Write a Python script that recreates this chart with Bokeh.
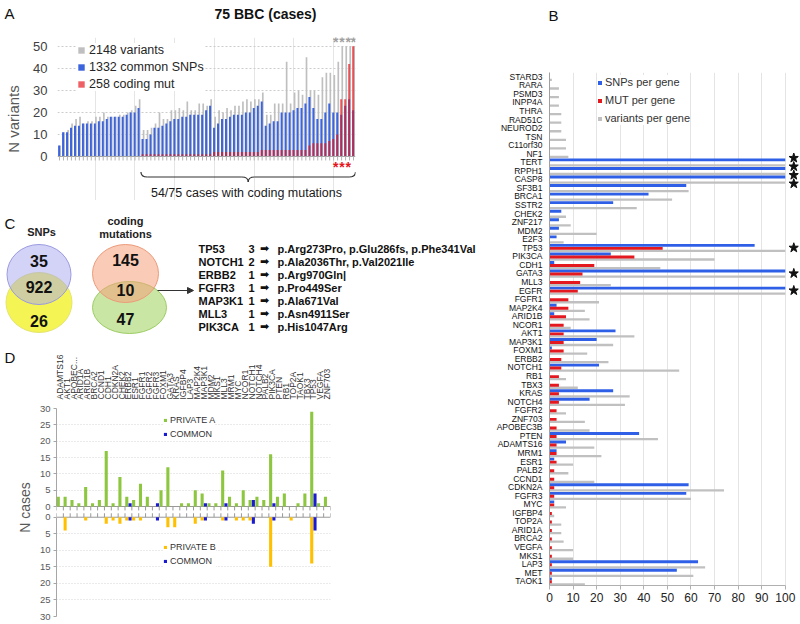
from math import pi
import numpy as np
from bokeh.plotting import figure
from bokeh.layouts import row, column
from bokeh.models import (Range1d, FactorRange, FixedTicker, Legend, LegendItem,
                          ColumnDataSource, Arrow, NormalHead)
from bokeh.transform import dodge
from bokeh.core.properties import value
from bokeh.embed import file_html
from bokeh.resources import INLINE

FONT = "Liberation Sans"
ARROW_FONT = "DejaVu Sans"

# ================= DATA =================
# Panel A: 75 cases
a_title = "75 BBC (cases)"
a_legend = ["2148 variants", "1332 common SNPs", "258 coding mut"]
a_brace_text = "54/75 cases with  coding mutations"
a_snps = [5, 11, 11, 13, 14, 14, 15, 15, 15, 15, 16, 16, 17, 18, 18, 18, 18, 19, 20, 20, 22,
          8, 8, 10, 13, 13, 14, 15, 16, 17, 17, 18, 18, 19, 19, 19, 19, 21, 23,
          13, 15, 17, 17, 18, 19, 19, 19, 20, 20, 22, 23,
          25, 14, 15, 16, 16, 20, 20, 20, 21, 22, 22, 24,
          27, 22, 17, 17, 20, 24, 20, 20, 19, 23, 26, 21]
a_variants = [5, 11, 12, 15, 17, 18, 15, 16, 16, 18, 18, 20, 18, 18, 18, 19, 19, 20, 21, 23, 26,
              12, 12, 13, 15, 20, 17, 17, 21, 21, 22, 21, 25, 21, 21, 24, 24, 23, 26,
              18, 21, 20, 22, 21, 23, 23, 25, 26, 25, 26, 26,
              29, 19, 19, 24, 24, 24, 43, 24, 29, 30, 28, 45,
              30, 30, 28, 36, 38, 38, 37, 43, 50, 50, 50, 50]
a_coding = [0, 0, 0, 0, 0, 0, 0, 0, 0, 0, 0, 0, 0, 0, 0, 0, 0, 0, 0, 0, 0,
            1, 1, 1, 1, 1, 1, 1, 1, 1, 1, 1, 1, 1, 1, 1, 1, 1, 1,
            2, 2, 2, 2, 2, 2, 2, 2, 2, 2, 2, 2,
            3, 3, 3, 3, 3, 3, 3, 3, 3, 3, 3, 3,
            5, 6, 6, 6, 6, 7, 8, 10, 26, 26, 42, 50]

# Panel B: per gene
b_legend = ["SNPs per gene", "MUT per gene", "variants per gene"]
b_genes = ["STARD3", "RARA", "PSMD3", "INPP4A", "THRA", "RAD51C", "NEUROD2", "TSN", "C11orf30", "NF1",
           "TERT", "RPPH1", "CASP8", "SF3B1", "BRCA1", "SSTR2", "CHEK2", "ZNF217", "MDM2", "E2F3",
           "TP53", "PIK3CA", "CDH1", "GATA3", "MLL3", "EGFR", "FGFR1", "MAP2K4", "ARID1B", "NCOR1",
           "AKT1", "MAP3K1", "FOXM1", "ERBB2", "NOTCH1", "RB1", "TBX3", "KRAS", "NOTCH4", "FGFR2",
           "ZNF703", "APOBEC3B", "PTEN", "ADAMTS16", "MRM1", "ESR1", "PALB2", "CCND1", "CDKN2A", "FGFR3",
           "MYC", "IGFBP4", "TOP2A", "ARID1A", "BRCA2", "VEGFA", "MKS1", "LAP3", "MET", "TAOK1"]
b_snps = [0, 0, 0, 0, 0, 0, 0, 0, 0, 0,
          100, 100, 100, 58, 42, 27, 5, 4, 4, 3,
          87, 26, 2, 100, 0, 100, 0, 3, 2, 0,
          28, 20, 1, 0, 21, 0, 0, 27, 17, 0,
          0, 0, 38, 7, 3, 2, 0, 0, 59, 58,
          2, 0, 0, 0, 0, 0, 0, 63, 54, 1]
b_mut = [0, 0, 0, 0, 0, 0, 0, 0, 0, 0,
         0, 0, 0, 0, 0, 0, 0, 0, 0, 0,
         48, 36, 19, 14, 13, 12, 8, 8, 7, 6,
         6, 6, 6, 5, 5, 4, 4, 4, 4, 3,
         3, 3, 3, 3, 3, 3, 2, 2, 2, 2,
         2, 1, 1, 1, 1, 1, 1, 1, 1, 1]
b_variants = [1, 4, 4, 4, 5, 5, 5, 7, 7, 8,
              100, 100, 100, 59, 52, 37, 7, 9, 20, 6,
              100, 70, 47, 100, 26, 100, 21, 15, 17, 9,
              36, 27, 16, 25, 55, 7, 12, 34, 32, 7,
              15, 17, 46, 19, 22, 10, 8, 19, 74, 60,
              7, 2, 5, 5, 6, 10, 10, 66, 61, 15]
b_star_genes = ["TERT", "RPPH1", "CASP8", "CASP8", "TP53", "GATA3", "EGFR"]
b_star_shift = [0.5, 0.5, 0.5, -0.5, 0.0, 0.0, 0.0]

# Panel C
c_snp_venn = ["35", "922", "26"]
c_mut_venn = ["145", "10", "47"]
c_genes = ["TP53", "NOTCH1", "ERBB2", "FGFR3", "MAP3K1", "MLL3", "PIK3CA"]
c_counts = ["3", "2", "1", "1", "1", "1", "1"]
c_changes = ["p.Arg273Pro, p.Glu286fs, p.Phe341Val", "p.Ala2036Thr, p.Val2021Ile",
             "p.Arg970Gln|", "p.Pro449Ser", "p.Ala671Val", "p.Asn4911Ser", "p.His1047Arg"]

# Panel D
d_legend_top = ["PRIVATE A", "COMMON"]
d_legend_bot = ["PRIVATE B", "COMMON"]
d_genes = ["ADAMTS16", "AKT1", "APOBEC...", "ARID1A", "ARID1B", "BRCA2", "CCND1", "CDH1", "CDKN2A", "CHEK2",
           "ERBB2", "ESR1", "FGFR1", "FGFR2", "FGFR3", "FOXM1", "GATA3", "KRAS", "IGFBP4", "LAP3",
           "MAP2K4", "MAP3K1", "MDM2", "MKS1", "MLL3", "MRM1", "MYC", "NCOR1", "NOTCH1", "NOTCH4",
           "PALB2", "PIK3CA", "PTEN", "RB1", "TOP2A", "TAOK1", "TBX3", "TP53", "VEGFA", "ZNF703"]
d_private_a = [3, 3, 2, 1, 6, 1, 2, 17, 1, 9,
               3, 2, 7, 3, 0, 5, 12, 0, 1, 1,
               5, 4, 1, 1, 11, 3, 1, 5, 2, 3,
               2, 16, 3, 4, 0, 1, 4, 29, 1, 3]
d_private_b = [0, 4, 0, 0, 1, 0, 0, 2, 1, 2,
               1, 1, 1, 0, 0, 0, 3, 3, 0, 0,
               2, 1, 0, 0, 1, 0, 1, 1, 1, 0,
               0, 15, 0, 0, 1, 0, 0, 14, 0, 0]
d_common = [0, 0, 0, 0, 0, 0, 0, 0, 0, 0,
            1, 0, 0, 0, 1, 0, 0, 0, 0, 0,
            0, 1, 0, 0, 1, 0, 0, 0, 2, 0,
            0, 1, 0, 0, 0, 0, 0, 4, 0, 0]


# ================= HELPERS =================
def fig(**kw):
    p = figure(output_backend="svg", toolbar_location=None, frame_align=False, **kw)
    p.outline_line_color = None
    return p


def pixfig(w, h, x0, y0):
    p = fig(width=w, height=h, x_range=Range1d(x0, x0 + w), y_range=Range1d(y0 + h, y0),
            x_axis_location=None, y_axis_location=None, min_border=0)
    p.grid.visible = False
    return p


def txt(p, x, y, t, size, bold=False, align="left", color="#111111", font=FONT, angle=0.0):
    p.text(x=x, y=y, text=t, text_font=value(font), text_font_size=size,
           text_font_style="bold" if bold else "normal", text_align=align,
           text_baseline="middle", text_color=color, angle=angle)


# ================= PANEL A =================
hdrA = pixfig(480, 30, 0, 0)
txt(hdrA, [4], [13], ["A"], "15px")
txt(hdrA, [265], [13], [a_title], "14px", bold=True, align="center")

cases = np.arange(1, len(a_snps) + 1)
src_a = ColumnDataSource(dict(case=cases, snps=a_snps, var=a_variants, cod=a_coding))
pA = fig(width=480, height=170, x_range=Range1d(0.5, len(a_snps) + 0.5), y_range=Range1d(-19.96, 54),
         x_axis_location=None,
         min_border_left=57, min_border_right=125, min_border_top=7, min_border_bottom=0)
rv = pA.vbar(x=dodge("case", 0.17, range=pA.x_range), top="var", width=0.42, source=src_a,
             fill_color="#bfbfbf", line_color=None)
rs = pA.vbar(x=dodge("case", -0.1, range=pA.x_range), top="snps", width=0.5, source=src_a,
             fill_color="#3c64dc", line_color=None)
rc = pA.vbar(x=dodge("case", -0.1, range=pA.x_range), top="cod", width=0.5, source=src_a,
             fill_color="#e5141b", fill_alpha=0.68, line_color=None)
# baseline and case ticks
pA.segment(x0=[0.5], y0=[0], x1=[len(a_snps) + 0.5], y1=[0], line_color="#a6a6a6", line_width=1)
pA.segment(x0=cases, y0=[0] * len(cases), x1=cases, y1=[-1.8] * len(cases),
           line_color="#b3b3b3", line_width=1)
pA.yaxis.ticker = FixedTicker(ticks=[0, 10, 20, 30, 40, 50])
pA.yaxis.bounds = (0, 50)
pA.yaxis.axis_line_color = None
pA.yaxis.major_tick_line_color = None
pA.yaxis.minor_tick_line_color = None
pA.yaxis.major_label_text_font = FONT
pA.yaxis.major_label_text_font_size = "13px"
pA.yaxis.major_label_text_color = "#404040"
pA.yaxis.major_label_standoff = 4
pA.yaxis.axis_label = "N variants"
pA.yaxis.axis_label_text_font = FONT
pA.yaxis.axis_label_text_font_size = "15px"
pA.yaxis.axis_label_text_font_style = "normal"
pA.yaxis.axis_label_text_color = "#595959"
pA.yaxis.axis_label_standoff = 8
pA.ygrid.ticker = FixedTicker(ticks=[10, 20, 30, 40, 50])
pA.ygrid.grid_line_color = "#cccccc"
pA.ygrid.grid_line_dash = "2 2"
legA = Legend(items=[LegendItem(label=value(a_legend[0]), renderers=[rv]),
                     LegendItem(label=value(a_legend[1]), renderers=[rs]),
                     LegendItem(label=value(a_legend[2]), renderers=[rc])],
              location=(20, 109), padding=0, margin=0, spacing=3, label_height=14,
              glyph_height=8, glyph_width=8, label_standoff=4, label_text_font=FONT,
              label_text_font_size="12.5px", label_text_color="#262626",
              border_line_color=None, background_fill_alpha=1.0)
pA.add_layout(legA)
txt(pA, [70.5, 72.1, 73.7, 75.0], [51.8] * 4, ["*"] * 4, "14px", bold=True, align="center", color="#a0a0a0")
txt(pA, [70.5, 72.1, 73.7], [-4.9] * 3, ["*"] * 3, "14px", bold=True, align="center", color="#e5141b")

# brace under the cases with coding mutations (drawn in the chart's own coordinates)
n_nomut = sum(1 for c in a_coding if c == 0)
bx0 = n_nomut + 0.5
bx1 = len(a_coding) + 0.5
bxm = (bx0 + bx1) / 2
yt, ymid, ytip = -7.0, -9.3, -11.6
pA.quadratic(x0=[bx0, bxm - 1.6, bxm + 1.6, bx1], y0=[yt, ymid, ymid, yt],
             x1=[bx0 + 1.6, bxm, bxm, bx1 - 1.6], y1=[ymid, ytip, ytip, ymid],
             cx=[bx0, bxm, bxm, bx1], cy=[ymid, ymid, ymid, ymid],
             line_color="#333333", line_width=1.2)
pA.segment(x0=[bx0 + 1.6, bxm + 1.6], y0=[ymid, ymid], x1=[bxm - 1.6, bx1 - 1.6], y1=[ymid, ymid],
           line_color="#333333", line_width=1.2)
txt(pA, [bxm], [-16.4], [a_brace_text], "12.5px", align="center", color="#1a1a1a")

# ================= PANEL C =================
pC = pixfig(480, 140, 0, 200)
txt(pC, [4], [223], ["C"], "15px")
txt(pC, [41], [231], ["SNPs"], "11px", bold=True, align="center", color="#222222")
txt(pC, [125, 125], [220, 233], ["coding", "mutations"], "11px", bold=True, align="center", color="#222222")
pC.ellipse(x=[38.5], y=[302], width=[66], height=[60], fill_color="#f2f236", fill_alpha=0.85,
           line_color="#e4e470", line_width=1)
pC.ellipse(x=[38.5], y=[274], width=[64], height=[60], fill_color="#a8a8f0", fill_alpha=0.5,
           line_color="#9a9ae0", line_width=1)
pC.ellipse(x=[129], y=[307], width=[74], height=[52], fill_color="#b8de86", fill_alpha=0.75,
           line_color="#9ccc64", line_width=1)
pC.ellipse(x=[125], y=[273], width=[66], height=[58], fill_color="#f5a07a", fill_alpha=0.55,
           line_color="#eb9a7a", line_width=1)
txt(pC, [38.5, 38.5, 38.5], [260, 286, 320], c_snp_venn, "16px", bold=True, align="center")
txt(pC, [125, 125, 125], [259, 289, 318], c_mut_venn, "16px", bold=True, align="center")
pC.add_layout(Arrow(end=NormalHead(size=6, fill_color="#333333", line_color="#333333"),
                    x_start=157, y_start=290, x_end=193, y_end=290,
                    line_color="#333333", line_width=1))
rows_y = [248.3 + 12.95 * k for k in range(len(c_genes))]
txt(pC, [198] * len(c_genes), rows_y, c_genes, "11px", bold=True)
txt(pC, [251] * len(c_genes), rows_y, c_counts, "11px", bold=True, align="center")
txt(pC, [264] * len(c_genes), rows_y, ["\u27a1"] * len(c_genes), "11px", bold=True,
    align="center", font=ARROW_FONT)
txt(pC, [277] * len(c_genes), rows_y, c_changes, "11px", bold=True)

# ================= PANEL D =================
dl = pixfig(36, 284, 0, 340)
txt(dl, [4], [357], ["D"], "15px")
txt(dl, [24], [507], ["N cases"], "14px", align="center", color="#595959", angle=pi / 2)

idx = np.arange(1, len(d_genes) + 1)
src_d = ColumnDataSource(dict(i=idx, a=d_private_a, b=d_private_b, c=d_common))
bnd = [k + 0.5 for k in range(0, len(d_genes) + 1)]


def style_y(p):
    p.yaxis.ticker = FixedTicker(ticks=[0, 5, 10, 15, 20, 25, 30])
    p.yaxis.bounds = (0, 30)
    p.yaxis.major_label_text_font = FONT
    p.yaxis.major_label_text_font_size = "9.5px"
    p.yaxis.major_label_text_color = "#595959"
    p.yaxis.axis_line_color = "#a6a6a6"
    p.yaxis.major_tick_line_color = "#a6a6a6"
    p.yaxis.major_tick_out = 3
    p.yaxis.major_tick_in = 0
    p.yaxis.minor_tick_line_color = None
    p.yaxis.major_label_standoff = 3
    p.ygrid.ticker = FixedTicker(ticks=[5, 10, 15, 20, 25, 30])
    p.ygrid.grid_line_color = "#d4d4d4"
    p.ygrid.grid_line_dash = "1 2"
    p.xgrid.visible = False


du = fig(width=444, height=171, x_range=Range1d(0.5, len(d_genes) + 0.5), y_range=Range1d(-1.53, 30),
         x_axis_location="above", min_border_left=17, min_border_right=150,
         min_border_top=68, min_border_bottom=0)
style_y(du)
top_ax = du.xaxis[0]
top_ax.ticker = FixedTicker(ticks=list(idx))
top_ax.major_label_overrides = {int(k): g for k, g in zip(idx, d_genes)}
top_ax.major_label_orientation = "vertical"
top_ax.major_label_text_font = FONT
top_ax.major_label_text_font_size = "8.5px"
top_ax.major_label_text_color = "#333333"
top_ax.major_label_standoff = 3
top_ax.major_tick_line_color = None
top_ax.axis_line_color = None
du.segment(x0=[0.5], y0=[0], x1=[len(d_genes) + 0.5], y1=[0], line_color="#999999", line_width=1)
du.segment(x0=bnd, y0=[0] * len(bnd), x1=bnd, y1=[-1.2] * len(bnd), line_color="#999999", line_width=1)
rga = du.vbar(x=dodge("i", -0.24, range=du.x_range), top="a", width=0.45, source=src_d,
              fill_color="#8dc63f", line_color=None)
rcu = du.vbar(x=dodge("i", 0.24, range=du.x_range), top="c", width=0.45, source=src_d,
              fill_color="#1a1ad2", line_color=None)
legDu = Legend(items=[LegendItem(label=value(d_legend_top[0]), renderers=[rga]),
                      LegendItem(label=value(d_legend_top[1]), renderers=[rcu])],
               location=(107, 71), padding=3, margin=0, spacing=2, label_height=12,
               glyph_height=4, glyph_width=4, label_standoff=3, label_text_font=FONT,
               label_text_font_size="9px", label_text_color="#333333",
               border_line_color=None, background_fill_alpha=1.0)
du.add_layout(legDu)

dlow = fig(width=444, height=113, x_range=du.x_range, y_range=Range1d(30, -1.73),
           x_axis_location=None, min_border_left=17, min_border_right=150,
           min_border_top=0, min_border_bottom=8)
style_y(dlow)
dlow.segment(x0=[0.5], y0=[0], x1=[len(d_genes) + 0.5], y1=[0], line_color="#999999", line_width=1)
dlow.segment(x0=bnd, y0=[0] * len(bnd), x1=bnd, y1=[-1.2] * len(bnd), line_color="#999999", line_width=1)
ryb = dlow.vbar(x=dodge("i", -0.24, range=dlow.x_range), top="b", bottom=0, width=0.45, source=src_d,
                fill_color="#ffc000", line_color=None)
rcl = dlow.vbar(x=dodge("i", 0.24, range=dlow.x_range), top="c", bottom=0, width=0.45, source=src_d,
                fill_color="#1a1ad2", line_color=None)
legDl = Legend(items=[LegendItem(label=value(d_legend_bot[0]), renderers=[ryb]),
                      LegendItem(label=value(d_legend_bot[1]), renderers=[rcl])],
               location=(107, 49), padding=3, margin=0, spacing=2, label_height=12,
               glyph_height=4, glyph_width=4, label_standoff=3, label_text_font=FONT,
               label_text_font_size="9px", label_text_color="#333333",
               border_line_color=None, background_fill_alpha=1.0)
dlow.add_layout(legDl)

# ================= PANEL B =================
hdrB = pixfig(320, 60, 480, 0)
txt(hdrB, [548], [15], ["B"], "15px")

src_b = ColumnDataSource(dict(gene=b_genes, snp=b_snps, mut=b_mut, var=b_variants))
pB = fig(width=320, height=564, x_range=Range1d(0, 105.6), y_range=FactorRange(factors=b_genes[::-1]),
         min_border_left=69, min_border_right=2, min_border_top=12, min_border_bottom=39)
rbv = pB.hbar(y=dodge("gene", -0.37, range=pB.y_range), right="var", height=0.27, source=src_b,
              fill_color="#c0c0c0", line_color=None)
rbs = pB.hbar(y=dodge("gene", 0.28, range=pB.y_range), right="snp", height=0.34, source=src_b,
              fill_color="#2f5fe6", line_color=None)
rbm = pB.hbar(y=dodge("gene", -0.07, range=pB.y_range), right="mut", height=0.34, source=src_b,
              fill_color="#e3191f", line_color=None)
for sh in sorted(set(b_star_shift)):
    gs = [g for g, s in zip(b_star_genes, b_star_shift) if s == sh]
    pB.scatter(x=103.6, y=dodge("gene", sh, range=pB.y_range),
               source=ColumnDataSource(dict(gene=gs)), marker="star", size=10,
               fill_color="#111111", line_color="#111111")
pB.xaxis.ticker = FixedTicker(ticks=[0, 10, 20, 30, 40, 50, 60, 70, 80, 90, 100])
pB.xaxis.bounds = (0, 100)
pB.xaxis.major_label_text_font = FONT
pB.xaxis.major_label_text_font_size = "12px"
pB.xaxis.major_label_text_color = "#222222"
pB.xaxis.axis_line_color = "#b0b0b0"
pB.xaxis.major_tick_line_color = "#b0b0b0"
pB.xaxis.major_tick_out = 4
pB.xaxis.major_tick_in = 0
pB.xaxis.minor_tick_line_color = None
pB.xaxis.major_label_standoff = 3
pB.yaxis.major_label_text_font = FONT
pB.yaxis.major_label_text_font_size = "8.5px"
pB.yaxis.major_label_text_color = "#111111"
pB.yaxis.major_tick_line_color = None
pB.yaxis.major_tick_out = 0
pB.yaxis.axis_line_color = "#a0a0a0"
pB.yaxis.major_label_standoff = 7
pB.ygrid.visible = False
pB.xgrid.ticker = FixedTicker(ticks=[10, 20, 30, 40, 50, 60, 70, 80, 90, 100])
pB.xgrid.grid_line_color = "#e4e4e4"
legB = Legend(items=[LegendItem(label=value(b_legend[0]), renderers=[rbs]),
                     LegendItem(label=value(b_legend[1]), renderers=[rbm]),
                     LegendItem(label=value(b_legend[2]), renderers=[rbv])],
              location=(48, 460), padding=0, margin=0, spacing=4, label_height=14,
              glyph_height=5, glyph_width=5, label_standoff=3, label_text_font=FONT,
              label_text_font_size="11px", label_text_color="#333333",
              border_line_color=None, background_fill_alpha=1.0)
pB.add_layout(legB)

# ================= LAYOUT =================
left = column(hdrA, pA, pC, row(dl, column(du, dlow)))
right = column(hdrB, pB)
layout = row(left, right)

open("out.html", "w").write(file_html(layout, INLINE))
